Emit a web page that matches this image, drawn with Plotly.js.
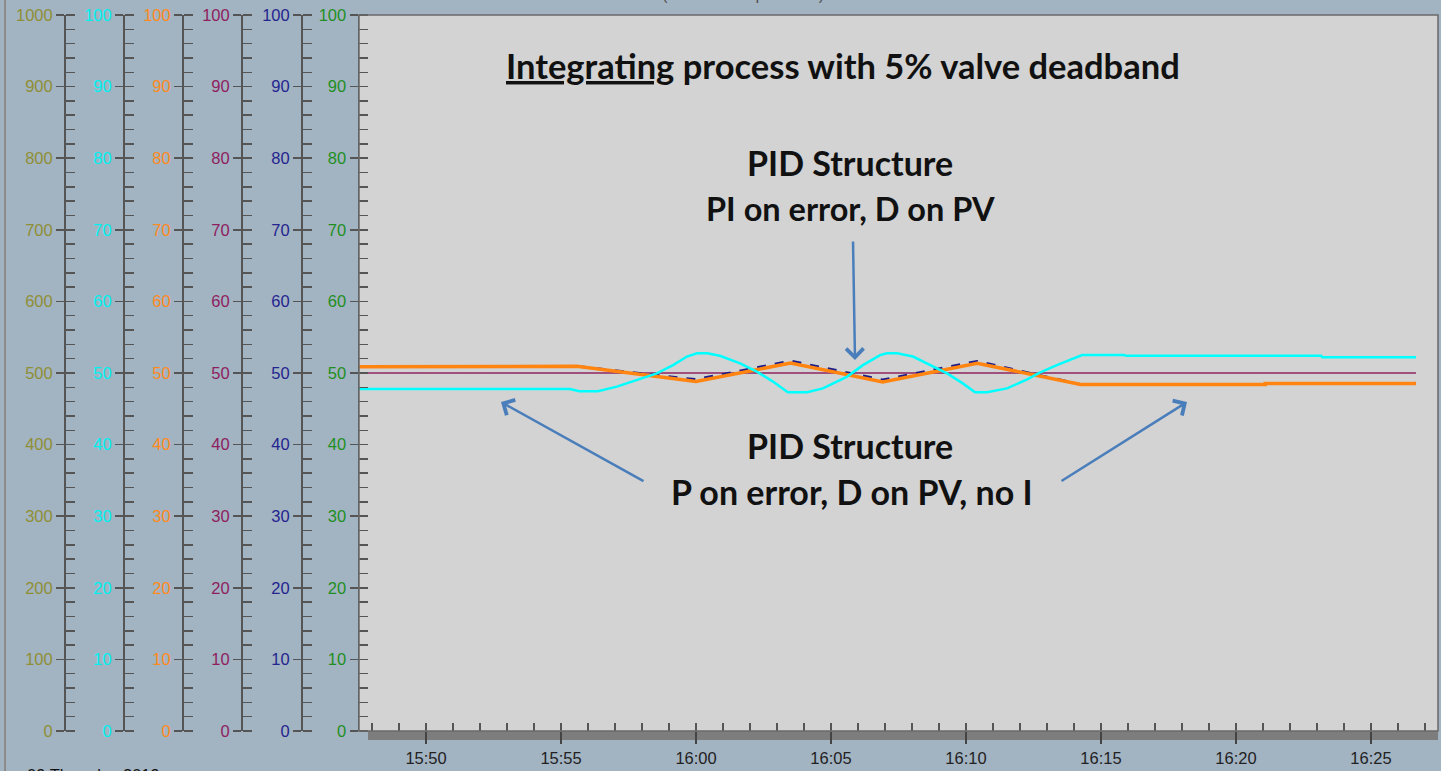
<!DOCTYPE html>
<html>
<head>
<meta charset="utf-8">
<script src="https://cdn.plot.ly/plotly-3.0.1.min.js"></script>
<style>html,body{margin:0;padding:0;background:#a2b3c2;}#chart{width:1441px;height:771px;}</style>
</head>
<body>
<div id="chart"></div>
<script>
// ---- data ----
const dateStr = '2019-05-09 ';
const setpointTimes = ['15:47:00', '16:26:40'];
const setpointVals = [50, 50];

const orangeTimes = ['15:47:00','15:48:10','15:48:10','15:55:35','16:00:00','16:03:30','16:06:55','16:10:25','16:14:15','16:21:05','16:21:05','16:26:40'];
const orangeVals  = [50.85, 50.85, 50.95, 50.95, 48.8, 51.4, 48.75, 51.35, 48.4, 48.4, 48.55, 48.55];

const navyTimes = ['15:47:00','15:48:10','15:48:10','15:55:35','16:00:00','16:03:30','16:06:55','16:10:25','16:14:15','16:21:05','16:21:05','16:26:40'];
const navyVals  = [50.85, 50.85, 50.95, 50.95, 49.1, 51.7, 49.05, 51.65, 48.4, 48.4, 48.55, 48.55];

const cyanTimes = ['15:47:00','15:55:20','15:55:40','15:56:22','15:57:04','15:58:02','15:58:33','15:59:09','15:59:40','16:00:02','16:00:25','16:00:53','16:01:38','16:02:15','16:02:51','16:03:24','16:04:07','16:04:42','16:05:36','16:06:11','16:06:49','16:07:04','16:07:27','16:08:02','16:08:40','16:09:18','16:09:53','16:10:20','16:10:47','16:11:31','16:12:16','16:12:44','16:13:22','16:14:18','16:15:51','16:15:56','16:23:09','16:23:12','16:26:40'];
const cyanVals  = [47.75,47.75,47.45,47.45,48.1,49.25,49.95,51.1,52.3,52.75,52.75,52.4,51.35,50.2,48.8,47.3,47.3,47.85,49.5,51.1,52.5,52.75,52.75,52.3,51.1,49.95,48.55,47.3,47.3,47.85,49.1,50.05,51.1,52.5,52.5,52.4,52.4,52.2,52.2];

const xRange = ['15:47:31', '16:27:29'];
const xTick0 = '15:50:00';

// axis scales (label colours / ranges): green, olive, cyan, orange, purple, blue
const axisColors = ['#1f8f1f', '#8f8f35', '#00f0f0', '#ff8a1e', '#8e1e5e', '#25258f'];
const axisMax    = [100, 1000, 100, 100, 100, 100];

// texts
const titleText = '<u>Integrating</u> process with 5% valve deadband';
const pidTitle = 'PID Structure';
const pidTop = 'PI on error, D on PV';
const pidBottom = 'P on error, D on PV, no I';
const topCut = '(cascade loop control)';
const bottomCut = '09 Thursday 2019';

// ---- layout helpers ----
const W = 1441, H = 771, T = 15, B = 40;
const plotL = 359, plotR = 1438;
const px = v => v / W;
const py = v => (H - B - v) / (H - B - T);
const axisPos = [null, 64, 123, 182, 241, 301];
const full = arr => arr.map(t => dateStr + t);

const lineCol = '#555555';
const tickFont = {family: 'Liberation Sans, Arial, sans-serif', size: 16.5};

const layout = {
  width: W, height: H,
  margin: {l: 0, r: 0, t: T, b: B, pad: 0},
  paper_bgcolor: '#a2b3c2',
  plot_bgcolor: '#d3d3d3',
  showlegend: false,
  xaxis: {
    type: 'date', domain: [px(plotL), px(plotR)], anchor: 'y',
    range: full(xRange), tick0: dateStr + xTick0, dtick: 300000,
    tickformat: '%H:%M', ticks: 'outside', ticklen: 12, tickwidth: 1.5, tickcolor: '#444',
    tickfont: Object.assign({color: '#222'}, tickFont),
    minor: {ticks: 'inside', ticklen: 8, dtick: 60000, tickwidth: 1.5, tickcolor: lineCol},
    showgrid: false, zeroline: false, showline: false
  },
  shapes: [
    // bottom time band
    {type: 'rect', xref: 'paper', yref: 'paper', x0: px(368), x1: px(plotR), y0: py(740), y1: py(731),
     fillcolor: '#7d7d7d', line: {width: 0}, layer: 'below'},
    // plot frame
    {type: 'rect', xref: 'paper', yref: 'paper', x0: px(plotL), x1: px(plotR), y0: 0, y1: 1,
     fillcolor: 'rgba(0,0,0,0)', line: {color: '#6a6a6a', width: 1.5}, layer: 'above'},
    // window left border
    {type: 'line', xref: 'paper', yref: 'paper', x0: px(5), x1: px(5), y0: py(775), y1: py(-5),
     line: {color: '#8c8c8c', width: 2}}
  ],
  annotations: []
};

// y axes: ticks outside + minor ticks inside (also at major positions)
for (let i = 0; i < 6; i++) {
  const id = i === 0 ? 'yaxis' : 'yaxis' + (i + 1);
  const ax = {
    range: [0, axisMax[i]], dtick: axisMax[i] / 10, tick0: 0,
    ticks: 'outside', ticklen: 8, tickwidth: 1.5, tickcolor: lineCol,
    minor: {ticks: 'inside', ticklen: 9, dtick: axisMax[i] / 50, tick0: 0, tickwidth: 1.5, tickcolor: lineCol},
    showline: true, linecolor: lineCol, linewidth: 1.5,
    showgrid: false, zeroline: false,
    tickfont: Object.assign({color: axisColors[i]}, tickFont),
    side: 'left'
  };
  if (i === 0) {
    ax.anchor = 'x';
  } else {
    ax.anchor = 'free'; ax.overlaying = 'y'; ax.position = px(axisPos[i]);
  }
  layout[id] = ax;
}

// annotations
const txtFont = (s) => ({family: 'Lato, Open Sans, sans-serif', size: s, color: '#111'});
layout.annotations.push(
  {xref: 'paper', yref: 'paper', x: px(843), y: py(66), xanchor: 'center', yanchor: 'middle',
   text: '<b>' + titleText + '</b>', showarrow: false, font: txtFont(34.5)},
  {xref: 'paper', yref: 'paper', x: px(850), y: py(163), xanchor: 'center', yanchor: 'middle',
   text: '<b>' + pidTitle + '</b>', showarrow: false, font: txtFont(34)},
  {xref: 'paper', yref: 'paper', x: px(850), y: py(209), xanchor: 'center', yanchor: 'middle',
   text: '<b>' + pidTop + '</b>', showarrow: false, font: txtFont(32.5)},
  {xref: 'paper', yref: 'paper', x: px(850), y: py(445), xanchor: 'center', yanchor: 'middle',
   text: '<b>' + pidTitle + '</b>', showarrow: false, font: txtFont(34)},
  {xref: 'paper', yref: 'paper', x: px(852), y: py(491), xanchor: 'center', yanchor: 'middle',
   text: '<b>' + pidBottom + '</b>', showarrow: false, font: txtFont(34)},
  {xref: 'paper', yref: 'paper', x: px(743), y: py(5), xanchor: 'center', yanchor: 'bottom',
   text: topCut, showarrow: false, font: {family: 'Liberation Sans, Arial, sans-serif', size: 16.5, color: '#555'}},
  {xref: 'paper', yref: 'paper', x: px(25), y: py(764), xanchor: 'left', yanchor: 'top',
   text: bottomCut, showarrow: false, font: {family: 'Liberation Sans, Arial, sans-serif', size: 16.5, color: '#111'}}
);
const arrowStyle = {xref: 'paper', yref: 'paper', text: '', showarrow: true, arrowhead: 4,
  arrowsize: 1.35, arrowwidth: 2.5, arrowcolor: '#4a7ebb', standoff: 0, startstandoff: 0};
layout.annotations.push(
  Object.assign({x: px(855), y: py(360), ax: -2, ay: -120}, arrowStyle),
  Object.assign({x: px(501), y: py(402), ax: 144, ay: 80}, arrowStyle),
  Object.assign({x: px(1187), y: py(402), ax: -127, ay: 80}, arrowStyle)
);

// overlay subplots are stacked by axis id (y, y2, y3 ... y6), which sets drawing order
const traces = [
  {x: full(setpointTimes), y: setpointVals, yaxis: 'y', mode: 'lines',
   line: {color: '#a0507c', width: 2}, hoverinfo: 'skip'},
  {x: [], y: [], yaxis: 'y2', mode: 'lines', hoverinfo: 'skip'},
  {x: full(navyTimes), y: navyVals, yaxis: 'y3', mode: 'lines',
   line: {color: '#1c1c8a', width: 2.5, dash: 'dash'}, hoverinfo: 'skip'},
  {x: full(orangeTimes), y: orangeVals, yaxis: 'y4', mode: 'lines',
   line: {color: '#ff8410', width: 3.5}, hoverinfo: 'skip'},
  {x: [], y: [], yaxis: 'y5', mode: 'lines', hoverinfo: 'skip'},
  {x: full(cyanTimes), y: cyanVals, yaxis: 'y6', mode: 'lines',
   line: {color: '#00ffff', width: 2.5}, hoverinfo: 'skip'}
];

Plotly.newPlot('chart', traces, layout, {displayModeBar: false, staticPlot: true});
</script>
</body>
</html>
